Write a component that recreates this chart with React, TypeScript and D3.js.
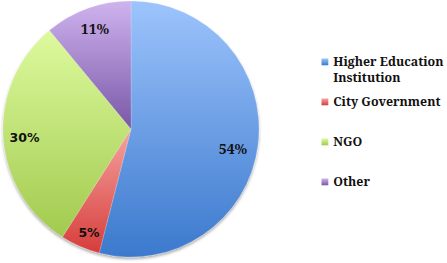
import React from "react";
import * as d3 from "d3";

const categories = ["Higher Education Institution", "City Government", "NGO", "Other"];
const values = [54, 5, 30, 11];
const labels = ["54%", "5%", "30%", "11%"];
const legendLines = [["Higher Education", "Institution"], ["City Government"], ["NGO"], ["Other"]];
const topColors = ["#9dc4fc", "#f5a3a0", "#ddfa9e", "#cfb3ee"];
const bottomColors = ["#3b79cd", "#d63d3a", "#a2ca4e", "#7957a7"];
const SERIF = "Noto Serif";
const SANS = "DejaVu Sans";
const labelFonts = [SERIF, SANS, SANS, SERIF];

export default function App() {
  const W = 447, H = 263;
  const cx = 131, cy = 129, r = 128;
  const pie = d3.pie<number>().sort(null).value((d) => d);
  const arcs = pie(values);
  const arc = d3.arc<d3.PieArcDatum<number>>().innerRadius(0).outerRadius(r);
  const labelPos = [
    [102, 19.5], [-42, 103], [-106.5, 8.5], [-36, -101],
  ];
  const legendY = d3.scaleLinear().domain([0, 3]).range([65.7, 185.7]);
  return (
    <svg width={W} height={H} style={{ position: "absolute", left: 0, top: 0, background: "#fff" }}>
      <defs>
        {categories.map((c, i) => (
          <linearGradient key={i} id={"g" + i} x1="0" y1="0" x2="0" y2="1">
            <stop offset="0" stopColor={topColors[i]} />
            <stop offset="1" stopColor={bottomColors[i]} />
          </linearGradient>
        ))}
        <filter id="sh" x="-10%" y="-10%" width="120%" height="120%">
          <feGaussianBlur in="SourceAlpha" stdDeviation="1.5" />
          <feOffset dx="0" dy="1.5" />
          <feComponentTransfer><feFuncA type="linear" slope="0.35" /></feComponentTransfer>
          <feMerge><feMergeNode /><feMergeNode in="SourceGraphic" /></feMerge>
        </filter>
      </defs>
      <g transform={`translate(${cx},${cy})`} filter="url(#sh)">
        {arcs.map((a, i) => (
          <path key={i} d={arc(a) || ""} fill={`url(#g${i})`} stroke="#fff" strokeOpacity={0.35} strokeWidth={0.5} />
        ))}
      </g>
      <g transform={`translate(${cx},${cy})`}>
        {arcs.map((a, i) => (
          <text key={i} x={labelPos[i][0]} y={labelPos[i][1]} textAnchor="middle" dominantBaseline="central"
            style={{ fontFamily: labelFonts[i], fontWeight: "bold", fontSize: labelFonts[i] === SANS ? 12.5 : 14 }} fill="#111">
            {labels[i]}
          </text>
        ))}
      </g>
      <g>
        {categories.map((c, i) => (
          <g key={i} transform={`translate(321.5,${legendY(i)})`}>
            <rect x={0} y={-7.2} width={6.8} height={6.8} fill={`url(#g${i})`} />
            {legendLines[i].map((t, j) => (
              <text key={j} x={11.8} y={j * 16.6}
                style={{ fontFamily: SERIF, fontWeight: "bold", fontSize: 12.4 }} fill="#111">
                {t}
              </text>
            ))}
          </g>
        ))}
      </g>
    </svg>
  );
}
